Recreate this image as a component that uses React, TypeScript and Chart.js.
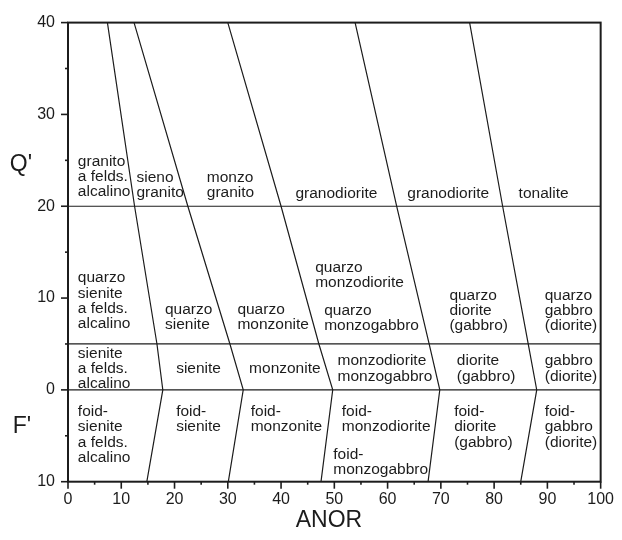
import React, { useEffect, useRef } from "react";
import { Chart, registerables } from "chart.js";

Chart.register(...registerables);

// ---- data ----
const boundaryLevels = [40, 20, 5, 0, -10];
const boundaryA = [7.4, 12.5, 16.7, 17.8, 14.8];
const boundaryB = [12.4, 22.5, 30.4, 32.9, 30.1];
const boundaryC = [30.0, 40.0, 47.1, 49.7, 47.5];
const boundaryD = [53.9, 61.7, 67.8, 69.8, 67.6];
const boundaryE = [75.4, 81.6, 86.4, 88.0, 85.0];
const horizontalLevels = [20, 5, 0];
const anorRange = [0, 100];
const xTickValues = [0, 10, 20, 30, 40, 50, 60, 70, 80, 90, 100];
const yTickValues = [40, 30, 20, 10, 0, -10];

type RegionLabel = { lines: string[]; x: number; y: number };
const regionLabels: RegionLabel[] = [
  { lines: ["granito", "a felds.", "alcalino"], x: 1.85, y: 24.9 },
  { lines: ["sieno", "granito"], x: 12.85, y: 23.15 },
  { lines: ["monzo", "granito"], x: 26.05, y: 23.15 },
  { lines: ["granodiorite"], x: 42.7, y: 21.4 },
  { lines: ["granodiorite"], x: 63.7, y: 21.4 },
  { lines: ["tonalite"], x: 84.6, y: 21.4 },
  { lines: ["quarzo", "sienite", "a felds.", "alcalino"], x: 1.85, y: 12.17 },
  { lines: ["quarzo", "sienite"], x: 18.2, y: 8.73 },
  { lines: ["quarzo", "monzonite"], x: 31.8, y: 8.73 },
  { lines: ["quarzo", "monzodiorite"], x: 46.4, y: 13.3 },
  { lines: ["quarzo", "monzogabbro"], x: 48.1, y: 8.66 },
  { lines: ["quarzo", "diorite", "(gabbro)"], x: 71.6, y: 10.29 },
  { lines: ["quarzo", "gabbro", "(diorite)"], x: 89.5, y: 10.29 },
  { lines: ["sienite", "a felds.", "alcalino"], x: 1.85, y: 3.95 },
  { lines: ["sienite"], x: 20.3, y: 2.3 },
  { lines: ["monzonite"], x: 34.0, y: 2.3 },
  { lines: ["monzodiorite", "monzogabbro"], x: 50.6, y: 3.15 },
  { lines: ["diorite", "(gabbro)"], x: 73.0, y: 3.15 },
  { lines: ["gabbro", "(diorite)"], x: 89.5, y: 3.15 },
  { lines: ["foid-", "sienite", "a felds.", "alcalino"], x: 1.85, y: -2.39 },
  { lines: ["foid-", "sienite"], x: 20.3, y: -2.39 },
  { lines: ["foid-", "monzonite"], x: 34.3, y: -2.39 },
  { lines: ["foid-", "monzodiorite"], x: 51.4, y: -2.39 },
  { lines: ["foid-", "monzogabbro"], x: 49.8, y: -7.03 },
  { lines: ["foid-", "diorite", "(gabbro)"], x: 72.5, y: -2.39 },
  { lines: ["foid-", "gabbro", "(diorite)"], x: 89.5, y: -2.39 },
];

const FONT = '"Liberation Sans", Arial, Helvetica, sans-serif';
const INK = "#1c1c1c";

export default function App() {
  const canvasRef = useRef<HTMLCanvasElement | null>(null);

  useEffect(() => {
    const canvas = canvasRef.current;
    if (!canvas) return;

    const boundaries = [boundaryA, boundaryB, boundaryC, boundaryD, boundaryE];
    const datasets: any[] = [];
    boundaries.forEach((xs, i) => {
      datasets.push({
        label: "boundary" + i,
        data: xs.map((x, j) => ({ x, y: boundaryLevels[j] })),
        showLine: true,
        borderColor: INK,
        borderWidth: 1.2,
        pointRadius: 0,
        fill: false,
        tension: 0,
      });
    });
    horizontalLevels.forEach((lv, i) => {
      datasets.push({
        label: "level" + i,
        data: anorRange.map((x) => ({ x, y: lv })),
        showLine: true,
        borderColor: INK,
        borderWidth: 1.2,
        pointRadius: 0,
        fill: false,
      });
    });

    const decorPlugin = {
      id: "decor",
      afterDatasetsDraw(chart: any) {
        const ctx = chart.ctx;
        const area = chart.chartArea;
        const xs = chart.scales.x;
        const ys = chart.scales.y;
        ctx.save();
        // frame
        ctx.strokeStyle = INK;
        ctx.lineWidth = 2;
        ctx.strokeRect(area.left, area.top, area.right - area.left, area.bottom - area.top);
        // ticks
        ctx.lineWidth = 1.6;
        for (let v = 0; v <= 100; v += 5) {
          const px = xs.getPixelForValue(v);
          const len = xTickValues.includes(v) ? 7 : 3;
          ctx.beginPath();
          ctx.moveTo(px, area.bottom);
          ctx.lineTo(px, area.bottom + len);
          ctx.stroke();
        }
        for (let v = -10; v <= 40; v += 5) {
          const py = ys.getPixelForValue(v);
          const len = yTickValues.includes(v) ? 7 : 3;
          ctx.beginPath();
          ctx.moveTo(area.left, py);
          ctx.lineTo(area.left - len, py);
          ctx.stroke();
        }
        // region labels
        ctx.fillStyle = INK;
        ctx.font = `15.5px ${FONT}`;
        ctx.textAlign = "left";
        ctx.textBaseline = "middle";
        const lh = 15.3;
        regionLabels.forEach((lab) => {
          const px = xs.getPixelForValue(lab.x);
          const py = ys.getPixelForValue(lab.y);
          lab.lines.forEach((t, k) => ctx.fillText(t, px, py + k * lh));
        });
        // axis titles
        ctx.font = `23px ${FONT}`;
        ctx.textAlign = "center";
        ctx.fillText("Q'", area.left - 47, ys.getPixelForValue(24.5));
        ctx.fillText("F'", area.left - 46, ys.getPixelForValue(-4.0));
        ctx.fillText("ANOR", xs.getPixelForValue(49), area.bottom + 39);
        ctx.restore();
      },
    };

    const chart = new Chart(canvas, {
      type: "scatter",
      data: { datasets },
      options: {
        animation: false,
        responsive: false,
        events: [],
        layout: { padding: { left: 0, top: 20, right: 14, bottom: 0 } },
        plugins: { legend: { display: false }, tooltip: { enabled: false } },
        scales: {
          x: {
            type: "linear",
            min: 0,
            max: 100,
            afterFit: (s: any) => {
              s.height = 58.3;
            },
            grid: { display: false, drawTicks: false },
            border: { display: false },
            ticks: {
              stepSize: 10,
              padding: 8,
              color: INK,
              font: { family: FONT, size: 16 },
              maxRotation: 0,
              autoSkip: false,
            },
          },
          y: {
            type: "linear",
            min: -10,
            max: 40,
            afterFit: (s: any) => {
              s.width = 68;
            },
            grid: { display: false, drawTicks: false },
            border: { display: false },
            ticks: {
              stepSize: 10,
              padding: 13,
              color: INK,
              font: { family: FONT, size: 16 },
              autoSkip: false,
              callback: (v: any) => (yTickValues.includes(Number(v)) ? String(Math.abs(Number(v))) : ""),
            },
          },
        },
      },
      plugins: [decorPlugin],
    });
    return () => chart.destroy();
  }, []);

  return (
    <div style={{ position: "fixed", left: 0, top: 0, width: 622, height: 540, background: "#fff" }}>
      <canvas ref={canvasRef} width={622} height={540} style={{ display: "block" }} />
    </div>
  );
}
